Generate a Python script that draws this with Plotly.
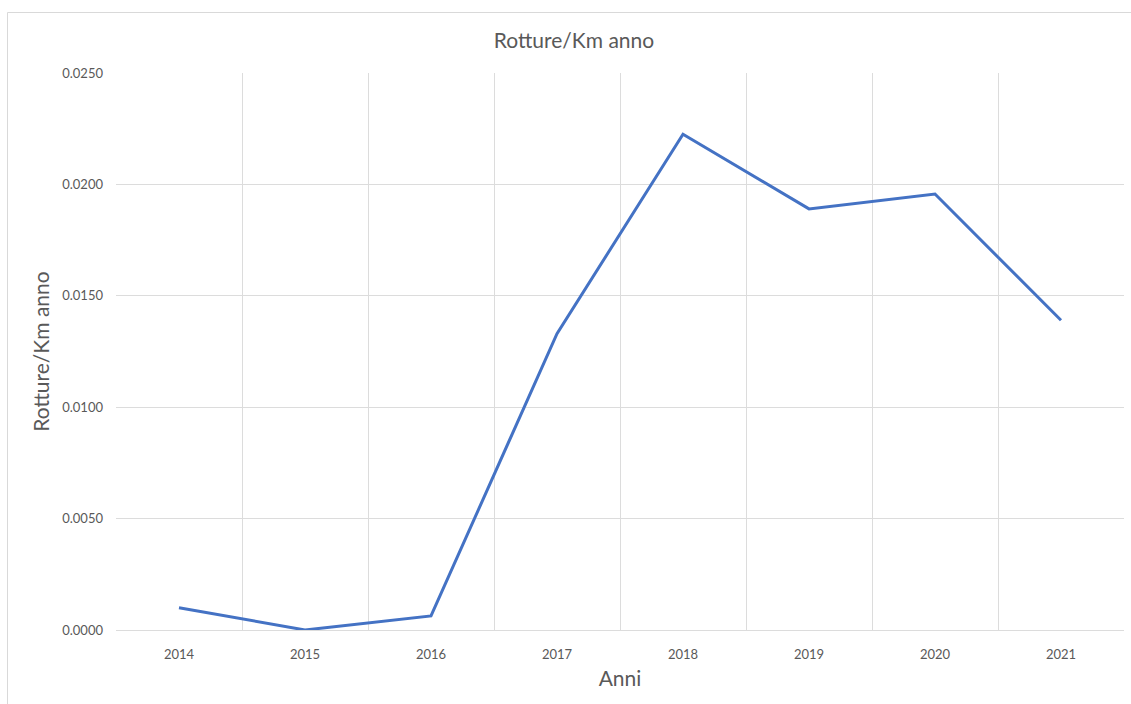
import plotly.graph_objects as go

# Rotture per km per anno
anni = ["2014", "2015", "2016", "2017", "2018", "2019", "2020", "2021"]
rotture_km = [0.0010, 0.0000, 0.00063, 0.0133, 0.02225, 0.0189, 0.01957, 0.0139]

W, H = 1131, 704
L, R, T, B = 116, 1124, 73, 630
grid = "#dcdcdc"
txt = "#595959"
font = "Lato, 'Open Sans', sans-serif"

fig = go.Figure(
    go.Scatter(
        x=anni,
        y=rotture_km,
        mode="lines",
        line=dict(color="#4472C4", width=3),
        hoverinfo="x+y",
    )
)

pw, ph = R - L, B - T


def px_x(v):
    return (v - L) / pw


def px_y(v):
    return (B - v) / ph


fig.update_layout(
    width=W,
    height=H,
    margin=dict(l=L, r=W - R, t=T, b=H - B),
    paper_bgcolor="white",
    plot_bgcolor="white",
    showlegend=False,
    title=dict(
        text="Rotture/Km anno",
        x=574 / W,
        xref="container",
        xanchor="center",
        y=1 - 41 / H,
        yref="container",
        yanchor="middle",
        font=dict(family=font, size=21, color=txt),
    ),
    xaxis=dict(
        type="category",
        range=[-0.5, 7.5],
        tickson="boundaries",
        showgrid=True,
        gridcolor=grid,
        gridwidth=1,
        showline=True,
        linecolor=grid,
        linewidth=1,
        ticks="",
        tickfont=dict(family=font, size=13, color=txt),
        ticklabelstandoff=12,
        title=dict(text="Anni", font=dict(family=font, size=21, color=txt), standoff=10),
        fixedrange=True,
    ),
    yaxis=dict(
        range=[0, 0.025],
        dtick=0.005,
        tickformat=".4f",
        showgrid=True,
        gridcolor=grid,
        gridwidth=1,
        zeroline=False,
        showline=False,
        ticks="",
        tickfont=dict(family=font, size=13, color=txt),
        ticklabelstandoff=12,
        title=dict(text="Rotture/Km anno", font=dict(family=font, size=21, color=txt), standoff=6),
        fixedrange=True,
    ),
    shapes=[
        # outer chart frame
        dict(
            type="rect",
            xref="paper",
            yref="paper",
            x0=px_x(7.5),
            x1=px_x(1140),
            y0=px_y(712),
            y1=px_y(12.5),
            line=dict(color="#d9d9d9", width=1),
            fillcolor="rgba(0,0,0,0)",
            layer="below",
        )
    ],
)

fig.write_html("out.html")
